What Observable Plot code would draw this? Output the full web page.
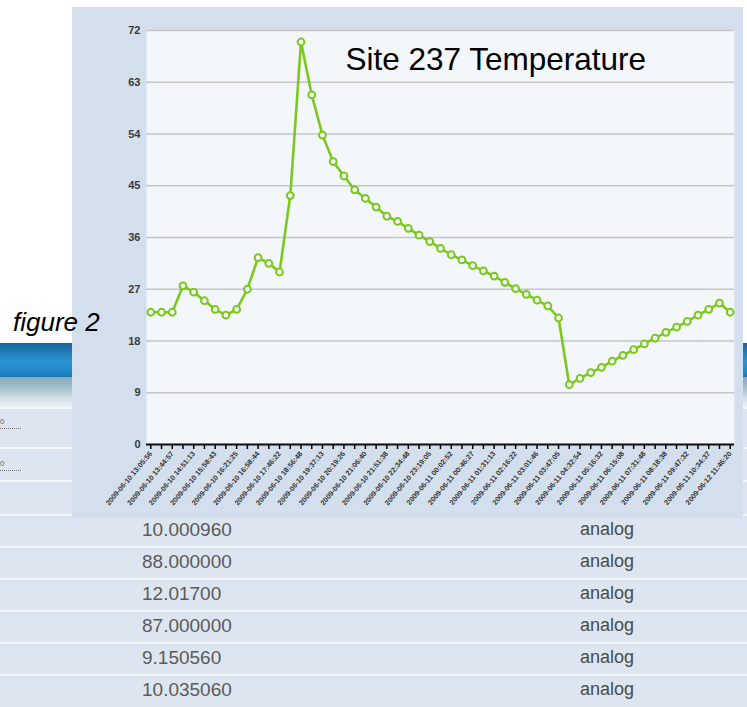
<!DOCTYPE html>
<html>
<head>
<meta charset="utf-8">
<script src="https://cdn.jsdelivr.net/npm/d3@7"></script>
<script src="https://cdn.jsdelivr.net/npm/@observablehq/plot@0.6"></script>
<style>
  html, body { margin: 0; padding: 0; }
  body { width: 747px; height: 707px; position: relative; overflow: hidden; background: #ffffff; font-family: Arial, "Liberation Sans", sans-serif; }
  .hdr { position: absolute; left: 0; width: 747px; top: 343px; height: 34px;
         background: linear-gradient(to bottom, #1b679c 0%, #1f7ab6 25%, #2b93d3 55%, #2188c8 85%, #1b77b3 100%); }
  .sub { position: absolute; left: 0; width: 747px; top: 377px; height: 30px;
         background: linear-gradient(to bottom, #86a9ba 0%, #a9c3cd 40%, #d6e3e7 75%, #eef3f5 100%); }
  .row { position: absolute; left: 0; width: 747px; background: #dde6f0; border-top: 2px solid #f3f6fa; box-sizing: border-box; }
  .cell { position: absolute; font-size: 19px; color: #5a5a5a; white-space: nowrap; }
  .tiny { position: absolute; left: 0; font-size: 8px; color: #666; line-height: 8px; }
  .tiny i { display:block; width: 21px; height: 0; border-top: 1px dotted #777; margin-top: 2px; }
  #chart { position: absolute; left: 72px; top: 7px; }
  #fig { position: absolute; left: 13px; top: 309px; font-style: italic; font-size: 26px; line-height: 26px; color: #000; z-index: 5; }
</style>
</head>
<body>
<div class="hdr"></div>
<div class="sub"></div>
<div id="rows"></div>
<div id="chart"></div>
<div id="fig">figure 2</div>
<script>
// ---- chart data ----
const title = "Site 237 Temperature";
const temperature = [
  23.0, 23.0, 23.0, 27.6, 26.5, 25.0, 23.5, 22.5, 23.5, 27.0,
  32.5, 31.5, 30.0, 43.3, 70.0, 60.8, 53.8, 49.2, 46.7, 44.3,
  42.8, 41.3, 39.7, 38.8, 37.6, 36.4, 35.3, 34.1, 33.0, 32.1,
  31.1, 30.2, 29.3, 28.2, 27.1, 26.1, 25.1, 24.1, 22.0, 10.4,
  11.5, 12.5, 13.4, 14.5, 15.5, 16.5, 17.5, 18.5, 19.5, 20.4,
  21.4, 22.5, 23.5, 24.6, 23.0
];
const xLabels = [
  "2009-06-10 13:05:56", "2009-06-10 13:44:57", "2009-06-10 14:51:13", "2009-06-10 15:58:43",
  "2009-06-10 16:21:25", "2009-06-10 16:58:44", "2009-06-10 17:46:22", "2009-06-10 18:56:48",
  "2009-06-10 19:37:13", "2009-06-10 20:19:26", "2009-06-10 21:06:40", "2009-06-10 21:51:38",
  "2009-06-10 22:34:48", "2009-06-10 23:19:05", "2009-06-11 00:02:52", "2009-06-11 00:46:27",
  "2009-06-11 01:31:13", "2009-06-11 02:16:22", "2009-06-11 03:01:46", "2009-06-11 03:47:05",
  "2009-06-11 04:32:54", "2009-06-11 05:16:32", "2009-06-11 06:15:08", "2009-06-11 07:31:48",
  "2009-06-11 08:18:38", "2009-06-11 09:47:32", "2009-06-11 10:34:37", "2009-06-12 11:46:20"
];
const yTicks = [0, 9, 18, 27, 36, 45, 54, 63, 72];

// ---- background table data ----
const tableValues = ["10.000960", "88.000000", "12.01700", "87.000000", "9.150560", "10.035060"];
const tableTypes = ["analog", "analog", "analog", "analog", "analog", "analog"];
const hiddenRowText = ["0", "0"];

// build background table (HTML)
const rowsDiv = document.getElementById("rows");
const upperRows = [[407, 40], [447, 33], [480, 34]];
upperRows.forEach(([t, h], k) => {
  const r = document.createElement("div");
  r.className = "row"; r.style.top = t + "px"; r.style.height = h + "px";
  rowsDiv.appendChild(r);
  if (k < hiddenRowText.length) {
    const tx = document.createElement("div");
    tx.className = "tiny"; tx.style.top = (t + 11 + k * 2) + "px";
    tx.innerHTML = hiddenRowText[k] + "<i></i>";
    rowsDiv.appendChild(tx);
  }
});
tableValues.forEach((v, k) => {
  const top = 514 + k * 32;
  const r = document.createElement("div");
  r.className = "row"; r.style.top = top + "px"; r.style.height = "33px";
  rowsDiv.appendChild(r);
  const c1 = document.createElement("div");
  c1.className = "cell"; c1.style.left = "142px"; c1.style.top = (top + 5) + "px";
  c1.textContent = v; rowsDiv.appendChild(c1);
  const c2 = document.createElement("div");
  c2.className = "cell"; c2.style.left = "580px"; c2.style.top = (top + 5) + "px";
  c2.style.fontSize = "18px"; c2.style.color = "#4a4a4a";
  c2.textContent = tableTypes[k]; rowsDiv.appendChild(c2);
});

// ---- chart ----
const data = temperature.map((v, i) => ({i, v}));
const green = "#7cc81c";
const chart = Plot.plot({
  width: 671,
  height: 511,
  marginTop: 23,
  marginLeft: 74,
  marginRight: 9,
  marginBottom: 74,
  style: {background: "#d3dfec", fontFamily: "Arial, 'Liberation Sans', sans-serif", overflow: "visible"},
  x: {type: "linear", domain: [-0.4, temperature.length - 0.6]},
  y: {domain: [0, 72]},
  marks: [
    Plot.frame({fill: "#f3f6fa", stroke: null}),
    Plot.gridY(yTicks, {stroke: "#c6c6c6", strokeOpacity: 1, strokeWidth: 1.5}),
    Plot.axisY(yTicks, {tickSize: 0, tickPadding: 6, fontSize: 11, fontWeight: "bold", fill: "#3a3a3a", label: null}),
    Plot.axisX(d3.range(temperature.length), {
      tickSize: 5, tickPadding: 3, tickRotate: -50, fontSize: 7.2, fontWeight: "bold", fill: "#333", label: null,
      stroke: "#000", strokeWidth: 1.5,
      tickFormat: i => (i % 2 === 0 ? xLabels[i / 2] : "")
    }),
    Plot.ruleY([0], {stroke: "#111", strokeWidth: 2}),
    Plot.line(data, {x: "i", y: "v", stroke: green, strokeWidth: 2.6}),
    Plot.dot(data, {x: "i", y: "v", r: 3.4, stroke: green, strokeWidth: 2, fill: "#f3f6fa"}),
    Plot.text([title], {frameAnchor: "top-left", dx: 199, dy: 17, fontSize: 31.5, fill: "#000", textAnchor: "start", lineAnchor: "top"})
  ]
});
document.getElementById("chart").appendChild(chart);
</script>
</body>
</html>
